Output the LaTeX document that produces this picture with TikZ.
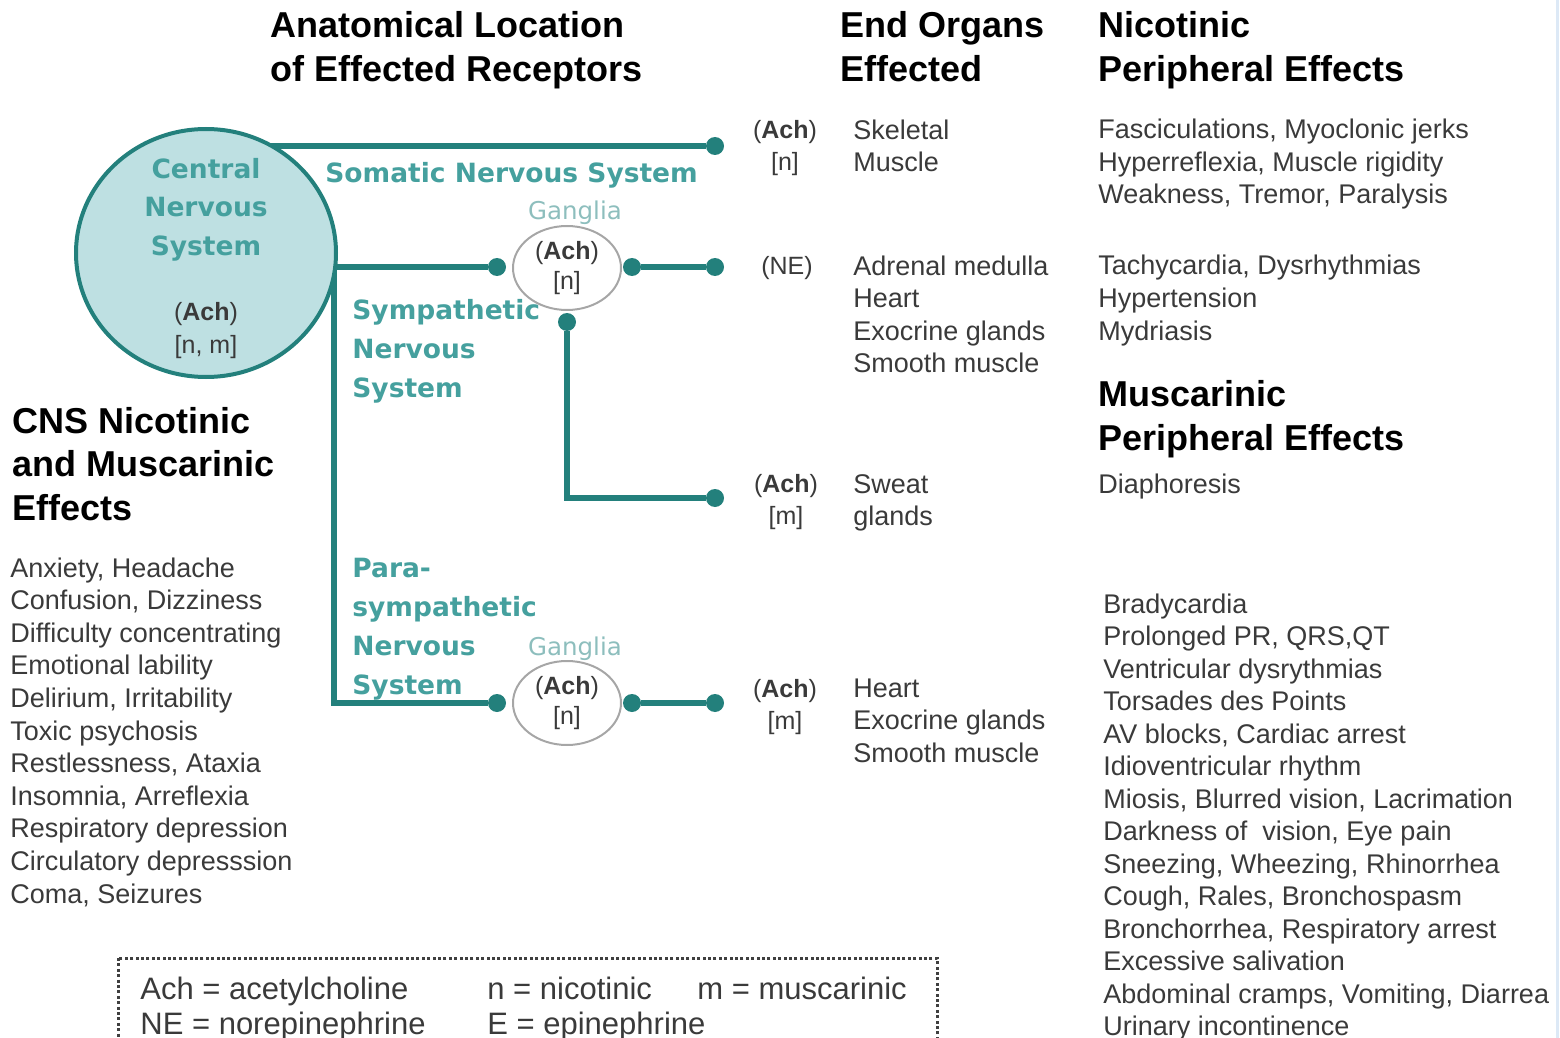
\documentclass[tikz,border=0pt]{standalone}
\usepackage{fontspec}
\setmainfont{Liberation Sans}
\newfontfamily\verd{DejaVu Sans}
\usetikzlibrary{shapes.geometric,backgrounds}
\definecolor{tealline}{HTML}{23807C}
\definecolor{tealtext}{HTML}{45A09E}
\definecolor{cnsfill}{HTML}{BEE0E2}
\definecolor{gangtext}{HTML}{8DBEBD}
\definecolor{bodytext}{HTML}{3A3A3A}
\definecolor{edgeblue}{HTML}{DDE9F6}
\tikzset{
  body/.style={anchor=base west, inner sep=0, align=left, text=bodytext, font=\fontsize{13.5}{16.25}\selectfont},
  head/.style={anchor=base west, inner sep=0, align=left, text=black, font=\bfseries\fontsize{18}{22}\selectfont},
  tlab/.style={anchor=base west, inner sep=0, align=left, text=tealtext, font=\verd\bfseries\fontsize{13.25}{19.5}\selectfont},
  lig/.style={anchor=base, inner sep=0, align=center, text=bodytext, font=\fontsize{12.5}{16}\selectfont},
  gl/.style={anchor=base, inner sep=0, text=gangtext, font=\verd\fontsize{12.25}{15}\selectfont},
  leg/.style={anchor=base west, inner sep=0, text=bodytext, font=\fontsize{15.5}{18}\selectfont},
  dot/.style={circle, fill=tealline, minimum size=9pt, inner sep=0},
  conn/.style={draw=tealline, line width=2.7pt},
  gang/.style={ellipse, draw=gray!70, line width=1pt, minimum width=54pt, minimum height=42pt, inner sep=0, align=center, text=bodytext, font=\fontsize{12.5}{15}\selectfont},
}
\begin{document}
\begin{tikzpicture}[x=0.5pt, y=-0.5pt]
\useasboundingbox (0,0) rectangle (1560,1038);
\clip (0,0) rectangle (1560,1038);
\draw[edgeblue, line width=1.5pt] (1557,0) -- (1557,1038);

% headings (base anchor = baseline of the last line)
\node[head] (hanat) at (270,82) {Anatomical Location\\of Effected Receptors};
\node[head] (hend) at (840,82) {End Organs\\Effected};
\node[head] (hnic) at (1098,82) {Nicotinic\\Peripheral Effects};
\node[head] (hmus) at (1098,450) {Muscarinic\\Peripheral Effects};
\node[head, font=\bfseries\fontsize{18}{21.75}\selectfont] (hcns) at (12,520) {CNS Nicotinic\\and Muscarinic\\Effects};

% CNS
\node[ellipse, draw=tealline, fill=cnsfill, line width=2pt, minimum width=130pt, minimum height=124pt] (cns) at (206,253) {};
\node[tlab, anchor=base, align=center] (cnst) at (206,256) {Central\\Nervous\\System};
\node[lig, font=\fontsize{12.5}{16.5}\selectfont] (cnsr) at (206,353) {(\textbf{Ach})\\{[n, m]}};

% system labels
\node[tlab] (som) at (325,183) {Somatic Nervous System};
\node[tlab] (sym) at (352,397) {Sympathetic\\Nervous\\System};
\node[tlab] (par) at (352,694) {Para-\\sympathetic\\Nervous\\System};
\node[gl] (gl1) at (575,220) {Ganglia};
\node[gl] (gl2) at (575,655) {Ganglia};

% ganglia
\node[gang] (g1) at (567,268) {(\textbf{Ach})\\{[n]}};
\node[gang] (g2) at (567,703) {(\textbf{Ach})\\{[n]}};

% dots
\node[dot] (somd) at (715,146) {};
\node[dot] (sl) at (497,267) {};
\node[dot] (sr) at (632,267) {};
\node[dot] (se) at (715,267) {};
\node[dot] (sb) at (567,322) {};
\node[dot] (swd) at (715,498) {};
\node[dot] (pl) at (497,703) {};
\node[dot] (pr) at (632,703) {};
\node[dot] (pe) at (715,703) {};
\coordinate (pc) at (334,703);

\begin{scope}[on background layer]
\draw[conn] (cns.center |- somd) -- (somd);
\draw[conn] (cns.center |- sl) -- (sl);
\draw[conn] (pc |- sl) -- (pc) -- (pl);
\draw[conn] (sr) -- (se);
\draw[conn] (sb) -- (sb |- swd) -- (swd);
\draw[conn] (pr) -- (pe);
\end{scope}

% ligands
\node[lig] (l1) at (785,170) {(\textbf{Ach})\\{[n]}};
\node[lig] (l2) at (787,275) {(NE)};
\node[lig] (l3) at (786,524) {(\textbf{Ach})\\{[m]}};
\node[lig] (l4) at (785,729) {(\textbf{Ach})\\{[m]}};

% end organs
\node[body] (e1) at (853,171.5) {Skeletal\\Muscle};
\node[body] (e2) at (853,372.5) {Adrenal medulla\\Heart\\Exocrine glands\\Smooth muscle};
\node[body] (e3) at (853,525.5) {Sweat\\glands};
\node[body] (e4) at (853,762) {Heart\\Exocrine glands\\Smooth muscle};

% peripheral effects
\node[body] (n1) at (1098,204) {Fasciculations, Myoclonic jerks\\Hyperreflexia, Muscle rigidity\\Weakness, Tremor, Paralysis};
\node[body] (n2) at (1098,340) {Tachycardia, Dysrhythmias\\Hypertension\\Mydriasis};
\node[body] (m1) at (1098,493) {Diaphoresis};
\node[body] (m2) at (1103,1035.5) {Bradycardia\\Prolonged PR, QRS,QT\\Ventricular dysrythmias\\Torsades des Points\\AV blocks, Cardiac arrest\\Idioventricular rhythm\\Miosis, Blurred vision, Lacrimation\\Darkness of\ \ vision, Eye pain\\Sneezing, Wheezing, Rhinorrhea\\Cough, Rales, Bronchospasm\\Bronchorrhea, Respiratory arrest\\Excessive salivation\\Abdominal cramps, Vomiting, Diarrea\\Urinary incontinence};

% CNS effects
\node[body, font=\fontsize{13.5}{16.3}\selectfont] (c1) at (10,903) {Anxiety, Headache\\Confusion, Dizziness\\Difficulty concentrating\\Emotional lability\\Delirium, Irritability\\Toxic psychosis\\Restlessness, Ataxia\\Insomnia, Arreflexia\\Respiratory depression\\Circulatory depresssion\\Coma, Seizures};

% legend
\draw[black!75, line width=1.5pt, dash pattern=on 1.5pt off 1.2pt] (118,958) rectangle (937,1070);
\node[leg] (k1) at (140,999) {Ach = acetylcholine};
\node[leg] (k2) at (487,999) {n = nicotinic};
\node[leg] (k3) at (697,999) {m = muscarinic};
\node[leg] (k4) at (140,1034) {NE = norepinephrine};
\node[leg] (k5) at (487,1034) {E = epinephrine};
\end{tikzpicture}
\end{document}
